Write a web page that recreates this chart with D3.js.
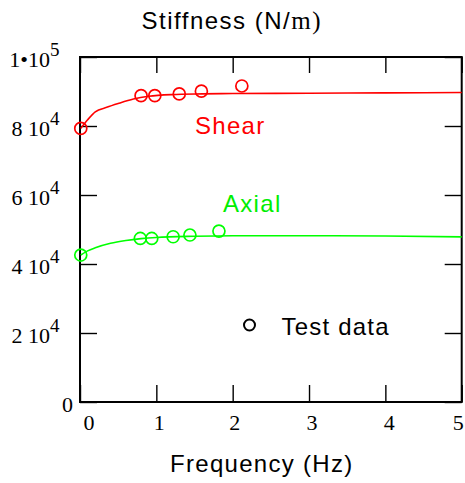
<!DOCTYPE html>
<html>
<head>
<meta charset="utf-8">
<script src="https://cdn.jsdelivr.net/npm/d3@7"></script>
<style>
  body { margin: 0; background: #fff; }
  svg { display: block; }
  .sans { font-family: "Liberation Sans", Arial, sans-serif; }
  .serif { font-family: "Liberation Serif", "Times New Roman", serif; }
</style>
</head>
<body>
<figure id="chart" style="margin:0"></figure>
<script>
// measured test points
const shearFreq = [0.01, 0.8, 0.98, 1.3, 1.59, 2.12];
const shearTest = [79300, 88800, 88800, 89300, 90100, 91600];
const axialFreq = [0.01, 0.79, 0.94, 1.22, 1.44, 1.82];
const axialTest = [42600, 47400, 47400, 47900, 48400, 49550];

// fitted curves
const shearFitFreq = [0.01, 0.1, 0.2, 0.35, 0.5, 0.7, 0.9, 1.2, 1.6, 2, 3, 4, 5];
const shearFit = [79300, 81800, 84100, 85400, 86500, 87800, 88600, 89100, 89300, 89400, 89500, 89600, 89700];
const axialFitFreq = [0.01, 0.1, 0.2, 0.4, 0.6, 0.8, 1.0, 1.5, 2, 3, 4, 5];
const axialFit = [42600, 43800, 44700, 46000, 46800, 47350, 47700, 48050, 48200, 48200, 48100, 47850];

const xTicks = [0, 1, 2, 3, 4, 5];
const yTicks = [0, 20000, 40000, 60000, 80000, 100000];
const yTickMant = ["0", "2 10", "4 10", "6 10", "8 10", "1\u202210"];
const yTickExp = ["", "4", "4", "4", "4", "5"];

const W = 465, H = 483;
const mLeft = 80, mRight = 461.7, mTop = 57, mBottom = 402;

const svg = d3.select("#chart").append("svg")
  .attr("width", W).attr("height", H);

const x = d3.scaleLinear().domain([0, 5]).range([mLeft, mRight]);
const y = d3.scaleLinear().domain([0, 100000]).range([mBottom, mTop]);

// inward ticks on all four sides
const tickLen = 17;
svg.append("g").attr("transform", "translate(0," + mBottom + ")")
  .call(d3.axisBottom(x).tickValues(xTicks).tickSizeInner(-tickLen).tickSizeOuter(0).tickFormat(""));
svg.append("g").attr("transform", "translate(0," + mTop + ")")
  .call(d3.axisTop(x).tickValues(xTicks).tickSizeInner(-16).tickSizeOuter(0).tickFormat(""));
svg.append("g").attr("transform", "translate(" + mLeft + ",0)")
  .call(d3.axisLeft(y).tickValues(yTicks).tickSizeInner(-tickLen).tickSizeOuter(0).tickFormat(""));
svg.append("g").attr("transform", "translate(" + mRight + ",0)")
  .call(d3.axisRight(y).tickValues(yTicks).tickSizeInner(-tickLen).tickSizeOuter(0).tickFormat(""));
svg.selectAll(".domain").remove();
svg.selectAll(".tick line").attr("stroke", "#000").attr("stroke-width", 1.4);

// frame
svg.append("rect")
  .attr("x", mLeft).attr("y", mTop)
  .attr("width", mRight - mLeft).attr("height", mBottom - mTop)
  .attr("fill", "none").attr("stroke", "#000").attr("stroke-width", 2);

// x tick labels
const xLabelShift = [9, 3, 2, 3, 4, -3.5];
svg.append("g").selectAll("text")
  .data(xTicks).enter().append("text")
  .attr("class", "serif")
  .attr("x", (d, i) => x(d) + xLabelShift[i])
  .attr("y", 430)
  .attr("text-anchor", "middle")
  .attr("font-size", 22)
  .text(d => d);

// y tick labels with exponent
const yl = svg.append("g");
yTicks.forEach((d, i) => {
  const endX = yTickExp[i] ? 50 : 73;
  yl.append("text").attr("class", "serif")
    .attr("x", endX).attr("y", y(d) + 10)
    .attr("text-anchor", "end").attr("font-size", 22)
    .text(yTickMant[i]);
  if (yTickExp[i]) {
    yl.append("text").attr("class", "serif")
      .attr("x", 50).attr("y", y(d) - 1)
      .attr("font-size", 19)
      .text(yTickExp[i]);
  }
});

// fitted lines
const line = d3.line().x(d => x(d[0])).y(d => y(d[1])).curve(d3.curveMonotoneX);
svg.append("path")
  .datum(d3.zip(shearFitFreq, shearFit))
  .attr("d", line).attr("fill", "none")
  .attr("stroke", "#ff0000").attr("stroke-width", 1.6);
svg.append("path")
  .datum(d3.zip(axialFitFreq, axialFit))
  .attr("d", line).attr("fill", "none")
  .attr("stroke", "#00ff00").attr("stroke-width", 1.6);

// test points
svg.append("g").selectAll("circle")
  .data(d3.zip(shearFreq, shearTest)).enter().append("circle")
  .attr("cx", d => x(d[0])).attr("cy", d => y(d[1])).attr("r", 6)
  .attr("fill", "none").attr("stroke", "#ff0000").attr("stroke-width", 1.7);
svg.append("g").selectAll("circle")
  .data(d3.zip(axialFreq, axialTest)).enter().append("circle")
  .attr("cx", d => x(d[0])).attr("cy", d => y(d[1])).attr("r", 6)
  .attr("fill", "none").attr("stroke", "#00ff00").attr("stroke-width", 1.7);

// series labels
svg.append("text").attr("class", "sans")
  .attr("x", 195).attr("y", 134).attr("font-size", 24).attr("letter-spacing", 1.3)
  .attr("fill", "#ff0000").text("Shear");
svg.append("text").attr("class", "sans")
  .attr("x", 223).attr("y", 212).attr("font-size", 24).attr("letter-spacing", 1.3)
  .attr("fill", "#00ee00").text("Axial");

// legend
svg.append("circle").attr("cx", 249.5).attr("cy", 325).attr("r", 5.5)
  .attr("fill", "none").attr("stroke", "#000").attr("stroke-width", 2);
svg.append("text").attr("class", "sans")
  .attr("x", 281.5).attr("y", 335).attr("font-size", 24).attr("letter-spacing", 1.2)
  .text("Test data");

// titles
const t = svg.append("text").attr("class", "sans")
  .attr("x", 141.5).attr("y", 29).attr("font-size", 24).attr("letter-spacing", 1.5);
t.append("tspan").text("Stiffness (N/");
t.append("tspan").attr("class", "serif").attr("font-size", 25).text("m)");

svg.append("text").attr("class", "sans")
  .attr("x", 170).attr("y", 472).attr("font-size", 24).attr("letter-spacing", 1.3)
  .text("Frequency (Hz)");
</script>
</body>
</html>
